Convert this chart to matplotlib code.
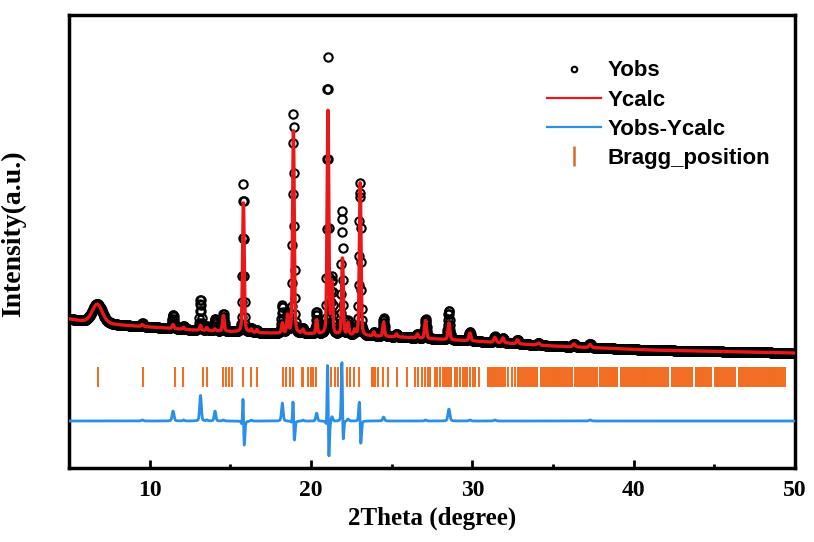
import numpy as np
import matplotlib
matplotlib.use("Agg")
import matplotlib.pyplot as plt
from matplotlib.lines import Line2D

# ---------------- data ----------------
# background knots (2theta, intensity a.u.)
bg_theta = [5.0, 6.0, 8.0, 10.0, 12.7, 17.0, 20.0, 25.5, 30.0, 35.0, 41.0, 50.0]
bg_int   = [149, 146, 143, 141, 138, 135, 134, 131, 127, 122, 118, 115]

# reflections: position, calc fwhm, obs fwhm, calc height, obs height, obs shift
peak_pos   = [6.75, 9.55, 11.45, 12.10, 13.15, 13.55, 14.05, 14.57, 15.81, 16.30,
              16.65, 18.22, 18.55, 18.91, 19.50, 20.35, 21.05, 21.30, 21.95, 22.30,
              22.70, 23.05, 23.90, 24.50, 25.30, 26.60, 27.10, 28.55, 29.85, 31.40,
              31.90, 32.80, 34.10, 36.30, 37.30]
calc_fwhm  = [0.75, 0.15, 0.14, 0.12, 0.12, 0.12, 0.12, 0.13, 0.12, 0.12,
              0.12, 0.12, 0.12, 0.12, 0.12, 0.12, 0.12, 0.12, 0.12, 0.12,
              0.12, 0.12, 0.12, 0.13, 0.13, 0.13, 0.14, 0.14, 0.15, 0.16,
              0.16, 0.16, 0.18, 0.18, 0.18]
obs_fwhm   = [0.75, 0.15, 0.14, 0.12, 0.12, 0.12, 0.12, 0.13, 0.10, 0.12,
              0.12, 0.12, 0.12, 0.11, 0.12, 0.12, 0.10, 0.12, 0.10, 0.12,
              0.12, 0.12, 0.12, 0.13, 0.13, 0.13, 0.14, 0.14, 0.15, 0.16,
              0.16, 0.16, 0.18, 0.18, 0.18]
calc_h     = [19, 2, 4, 2, 5, 3, 2, 16, 132, 3,
              3, 10, 18, 207, 4, 14, 228, 50, 78, 12,
              5, 156, 4, 14, 3, 4, 18, 17, 8, 5,
              5, 4, 2, 3, 3]
obs_h      = [19, 3, 14, 3, 31, 4, 12, 17, 148, 4,
              3, 28, 18, 220, 5, 22, 276, 55, 124, 14,
              5, 153, 4, 18, 3, 4, 19, 29, 9, 6,
              5, 4, 2, 3, 4]
obs_shift  = [0, 0, 0, 0, 0, 0, 0, 0, -0.01, 0,
              0, 0, 0, -0.006, 0, 0, -0.01, 0, -0.025, 0,
              0, -0.012, 0, 0, 0, 0, 0, 0, 0, 0,
              0, 0, 0, 0, 0]

# Bragg reflection positions (2theta)
bragg_pos = [6.82, 9.57, 11.57, 12.09, 13.29, 13.53, 14.57, 14.71, 14.92, 15.12,
             15.81, 16.26, 16.64, 18.29, 18.43, 18.70, 18.91, 19.43, 19.53, 19.84,
             19.98, 20.15, 20.31, 21.08, 21.22, 21.49, 21.69, 21.94, 22.21, 22.42,
             22.67, 22.98, 23.77, 23.87, 23.97, 24.18, 24.49, 24.80, 25.32, 25.94,
             26.45, 26.66, 26.87, 27.07, 27.28, 27.38, 27.69, 27.84, 28.00,
             28.19, 28.30, 28.42, 28.55, 28.66, 28.90, 29.05, 29.24, 29.43, 29.55,
             29.67, 29.86, 30.05, 30.18, 30.42, 30.97, 31.08, 31.18, 31.30, 31.42,
             31.55, 31.66, 31.80, 31.93, 32.05, 32.20, 32.45, 32.65, 32.80, 32.92,
             33.04, 33.15, 33.28, 33.40, 33.52, 33.63, 33.76, 33.88, 34.00,
             34.24, 34.36, 34.48, 34.60, 34.73, 34.85, 34.97, 35.10, 35.22, 35.34,
             35.46, 35.58, 35.70, 35.83, 35.95, 36.06, 36.20, 36.35, 36.50, 36.62,
             36.74, 36.86, 36.98, 37.10, 37.22, 37.34, 37.46, 37.58, 37.70, 37.93,
             38.05, 38.16, 38.28, 38.40, 38.52, 38.63, 38.75, 38.87, 38.99,
             39.23, 39.35, 39.47, 39.59, 39.71, 39.83, 39.95, 40.07, 40.19, 40.31,
             40.43, 40.55, 40.67, 40.79, 40.91, 41.03, 41.15, 41.27, 41.39, 41.51,
             41.63, 41.75, 41.87, 41.99, 42.11, 42.40, 42.52, 42.64, 42.76, 42.88,
             43.00, 43.12, 43.24, 43.36, 43.48, 43.60, 43.84, 43.96, 44.08,
             44.20, 44.32, 44.44, 44.56, 44.68, 44.82, 45.07, 45.19, 45.31, 45.43,
             45.55, 45.67, 45.79, 45.91, 46.03, 46.15, 46.27, 46.50, 46.62, 46.74,
             46.86, 46.98, 47.10, 47.22, 47.34, 47.46, 47.58, 47.70, 47.82, 47.94,
             48.06, 48.18, 48.30, 48.42, 48.54, 48.66, 48.78, 48.90, 49.02, 49.14,
             49.26, 49.38]

x_ticks = [10, 20, 30, 40, 50]
x_tick_labels = ["10", "20", "30", "40", "50"]
diff_offset = 47          # baseline of the difference curve
bragg_band = (81, 101)    # vertical extent of Bragg markers

# ---------------- profile construction ----------------
tt = np.arange(5.0, 50.0001, 0.02)
background = np.interp(tt, bg_theta, bg_int)


def pseudo_voigt(x, c, h, w, eta=0.3):
    d2 = 4.0 * (x - c) ** 2 / w ** 2
    return h * (eta / (1.0 + d2) + (1 - eta) * np.exp(-np.log(2) * d2))


y_calc = background.copy()
y_obs = background.copy()
for c, wc, wo, hc, ho, s in zip(peak_pos, calc_fwhm, obs_fwhm, calc_h, obs_h,
                                obs_shift):
    y_calc += pseudo_voigt(tt, c, hc, wc)
    y_obs += pseudo_voigt(tt, c + s, ho, wo)
y_diff = y_obs - y_calc + diff_offset

# ---------------- drawing ----------------
serif = ["Liberation Serif", "DejaVu Serif"]
sans = ["Liberation Sans", "DejaVu Sans"]

fig = plt.figure(figsize=(8.14, 5.42), dpi=100)
ax = fig.add_axes([69 / 814, 74 / 542, 726 / 814, 453 / 542])

ax.plot(tt, y_obs, ls="none", marker="o", ms=6, mfc="none", mec="black",
        mew=1.5, zorder=2)
ax.plot(tt, y_calc, color="#e8191b", lw=2.4, zorder=3)
ax.plot(tt, y_diff, color="#2b8fe6", lw=2.0, zorder=3)
ax.vlines(bragg_pos, bragg_band[0], bragg_band[1], color="#f26a1e", lw=1.4,
          zorder=2)

ax.set_xlim(5, 50)
ax.set_ylim(0, 453)
ax.set_yticks([])
ax.set_xticks(x_ticks)
ax.set_xticklabels(x_tick_labels, fontfamily=serif, fontweight="bold",
                   fontsize=17)
ax.set_xticks([15, 25, 35, 45], minor=True)
ax.tick_params(axis="x", which="major", direction="in", length=6, width=2,
               pad=9)
ax.tick_params(axis="x", which="minor", direction="in", length=3, width=2)
for sp in ax.spines.values():
    sp.set_linewidth(2.5)

ax.set_xlabel("2Theta (degree)", fontfamily=serif, fontweight="bold",
              fontsize=18, labelpad=4)
ax.set_ylabel("Intensity(a.u.)", fontfamily=serif, fontweight="bold",
              fontsize=20)
ax.yaxis.set_label_coords(-0.059, 0.517)

handles = [
    Line2D([], [], ls="none", marker="o", ms=4, mfc="none", mec="black",
           mew=1.5),
    Line2D([], [], color="#e8191b", lw=1.6),
    Line2D([], [], color="#2b8fe6", lw=1.6),
    Line2D([], [], ls="none", marker="|", ms=14, mew=1.8, color="#d8692a"),
]
labels = ["Yobs", "Ycalc", "Yobs-Ycalc", "Bragg_position"]
ax.legend(handles, labels, loc="upper left", bbox_to_anchor=(0.659, 0.90),
          frameon=False, borderpad=0, borderaxespad=0, handlelength=2.4,
          handletextpad=0.3, labelspacing=0.37,
          prop={"family": sans, "weight": "bold", "size": 16})

fig.savefig("out.png", dpi=100)
